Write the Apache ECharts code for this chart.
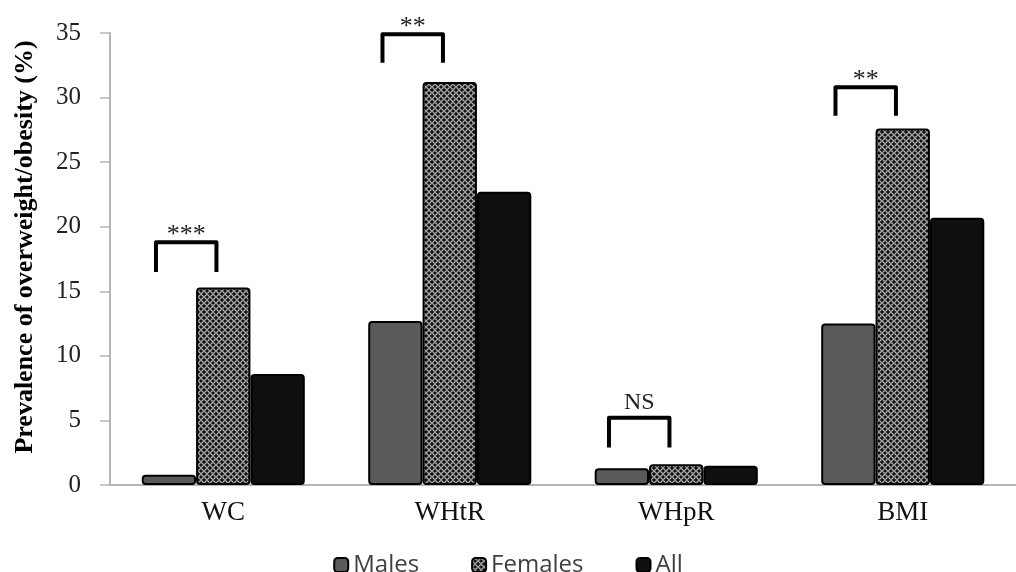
<!DOCTYPE html>
<html>
<head>
<meta charset="utf-8">
<script src="https://cdn.jsdelivr.net/npm/echarts@6/dist/echarts.min.js"></script>
<style>html,body{margin:0;padding:0;background:#fff;}#c{width:1016px;height:572px;}</style>
</head>
<body>
<div id="c"></div>
<script>
const categories = ['WC', 'WHtR', 'WHpR', 'BMI'];
const males = [0.8, 12.7, 1.3, 12.5];
const females = [15.3, 31.2, 1.6, 27.6];
const allValues = [8.6, 22.7, 1.5, 20.7];
const sigTop = [18.8, 34.9, 5.2, 30.8];
const sigBottom = [16.5, 32.7, 2.9, 28.6];
const sigLabels = ['***', '**', 'NS', '**'];
const yTicks = [0, 5, 10, 15, 20, 25, 30, 35];

// pattern for Females
const pc = document.createElement('canvas');
pc.width = 6; pc.height = 6;
const pctx = pc.getContext('2d');
pctx.fillStyle = '#111';
pctx.fillRect(0, 0, 6, 6);
pctx.strokeStyle = '#ececec';
pctx.lineWidth = 1;
pctx.beginPath();
pctx.arc(3, 3, 2.3, 0, Math.PI * 2);
pctx.stroke();
const femalePattern = { image: pc, repeat: 'repeat' };

const serif = 'Liberation Serif';
const chart = echarts.init(document.getElementById('c'));
const barStyle = (color) => ({ color: color, borderColor: '#000', borderWidth: 2, borderRadius: 3 });

chart.setOption({
  animation: false,
  backgroundColor: '#fff',
  grid: { left: 110, right: -10, top: 33, bottom: 87, containLabel: false },
  legend: {
    top: 548,
    left: 'center',
    itemWidth: 14,
    itemHeight: 14,
    itemGap: 52,
    textStyle: { fontFamily: 'Open Sans', fontSize: 24, color: '#404040' },
    data: ['Males', 'Females', 'All']
  },
  xAxis: {
    type: 'category',
    data: categories,
    axisLine: { lineStyle: { color: '#b5b5b5', width: 2 } },
    axisTick: { show: false },
    axisLabel: { fontFamily: serif, fontSize: 27, color: '#111', margin: 14 }
  },
  yAxis: {
    type: 'value',
    min: yTicks[0],
    max: yTicks[yTicks.length - 1],
    interval: 5,
    splitLine: { show: false },
    axisLine: { show: true, lineStyle: { color: '#b5b5b5', width: 2 } },
    axisTick: { show: true, length: 10, lineStyle: { color: '#b5b5b5', width: 1.5 } },
    axisLabel: { fontFamily: serif, fontSize: 25, color: '#222', margin: 29 },
    name: 'Prevalence of overweight/obesity (%)',
    nameLocation: 'middle',
    nameRotate: 90,
    nameGap: 72,
    nameTextStyle: { fontFamily: serif, fontSize: 26, fontWeight: 'bold', color: '#000', padding: [0, 0, 0, 24] }
  },
  series: [
    { name: 'Males', type: 'bar', data: males, barGap: '0%', barCategoryGap: '28%', itemStyle: barStyle('#5a5a5a') },
    { name: 'Females', type: 'bar', data: females, barGap: '0%', barCategoryGap: '28%', itemStyle: barStyle(femalePattern) },
    { name: 'All', type: 'bar', data: allValues, barGap: '0%', barCategoryGap: '28%', itemStyle: barStyle('#0f0f0f') },
    {
      type: 'custom',
      silent: true,
      z: 5,
      data: categories.map((c, i) => [i, sigTop[i], sigBottom[i]]),
      renderItem: function (params, api) {
        const top = api.coord([api.value(0), api.value(1)]);
        const bot = api.coord([api.value(0), api.value(2)]);
        const bw = api.size([1, 0])[0];
        const x1 = top[0] - 0.297 * bw;
        const x2 = top[0] - 0.03 * bw;
        const label = sigLabels[params.dataIndex];
        const isStar = label.indexOf('*') >= 0;
        return {
          type: 'group',
          children: [
            {
              type: 'polyline',
              shape: { points: [[x1, bot[1]], [x1, top[1]], [x2, top[1]], [x2, bot[1]]] },
              style: { stroke: '#000', lineWidth: 4, fill: null, lineJoin: 'round' }
            },
            {
              type: 'text',
              style: {
                x: (x1 + x2) / 2, y: top[1] - (isStar ? 7 : 15),
                text: label,
                align: 'center', verticalAlign: 'middle',
                fontFamily: serif, fontSize: isStar ? 26 : 24, fill: '#222'
              }
            }
          ]
        };
      }
    }
  ]
});
</script>
</body>
</html>
